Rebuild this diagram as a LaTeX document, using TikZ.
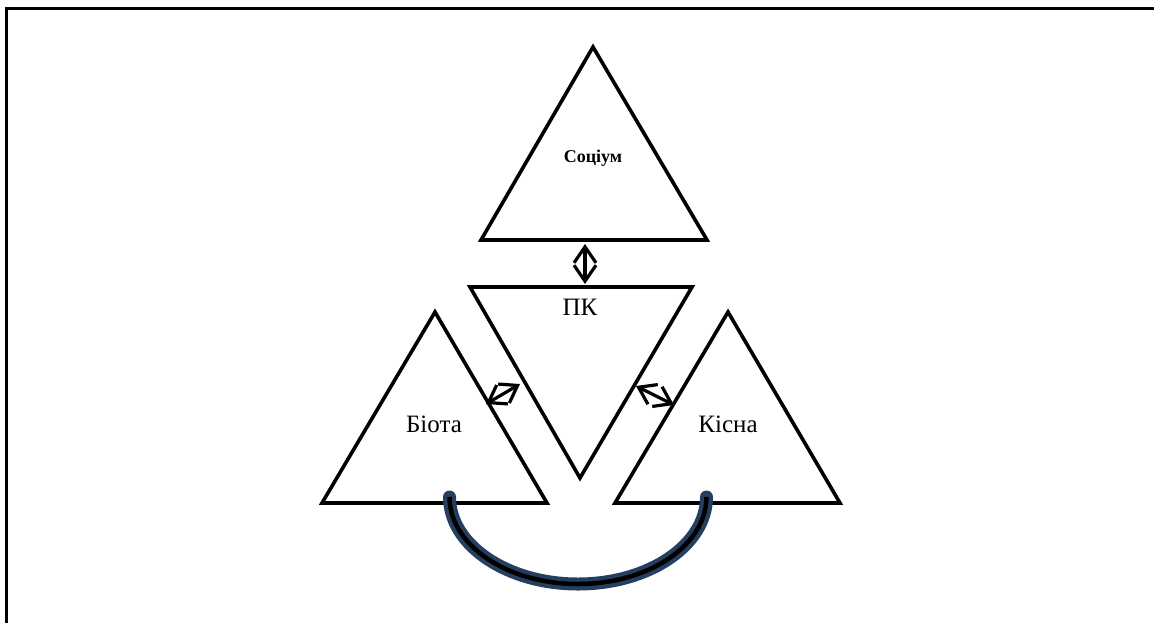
\documentclass[tikz,border=0pt]{standalone}
\usepackage{fontspec}
\setmainfont{Liberation Serif}
\usetikzlibrary{arrows.meta}
\begin{document}
\begin{tikzpicture}[x=1pt,y=-1pt,
  tri/.style={draw=black,line width=3.6pt,line join=miter},
  lbl/.style={font=\fontsize{25}{28}\selectfont,inner sep=0pt,anchor=base},
  dbl/.style={line width=3.2pt,{Straight Barb[length=16pt,width=22pt,line width=3.2pt]}-{Straight Barb[length=16pt,width=22pt,line width=3.2pt]}}]
\useasboundingbox (0,0) rectangle (1154,622);
\draw[line width=3pt] (6.5,630) -- (6.5,8.5) -- (1160,8.5);
% triangles
\draw[tri] (593,47) -- (707,240) -- (481,240) -- cycle;
\draw[tri] (470,287) -- (692,287) -- (580,478) -- cycle;
\draw[tri] (435,312) -- (547,503) -- (322,503) -- cycle;
\draw[tri] (728,312) -- (840,503) -- (615,503) -- cycle;
% labels
\node[font=\bfseries\fontsize{18}{20}\selectfont,inner sep=0pt,anchor=base] (soc) at (593,162) {Соціум};
\node[lbl] (pk) at (580,315) {ПК};
\node[lbl] (bio) at (434,432) {Біота};
\node[lbl] (kis) at (728,432) {Кісна};
% arrows
\coordinate (a1) at (585,244);
\coordinate (a2) at (585,284);
\draw[dbl] (a1) -- (a2);
\coordinate (b1) at (486,404);
\coordinate (b2) at (520,384);
\draw[dbl] (b1) -- (b2);
\coordinate (c1) at (636,386);
\coordinate (c2) at (674,405);
\draw[dbl] (c1) -- (c2);
% arc
\coordinate (l) at (449.5,497);
\coordinate (r) at (707,499);
\draw[line width=13pt,draw={rgb,255:red,36;green,63;blue,96},line cap=round] (l) arc[start angle=180,end angle=360,x radius=128.5,y radius=-87];
\draw[line width=4.5pt,black] (l) arc[start angle=180,end angle=360,x radius=128.5,y radius=-87];
\end{tikzpicture}
\end{document}
